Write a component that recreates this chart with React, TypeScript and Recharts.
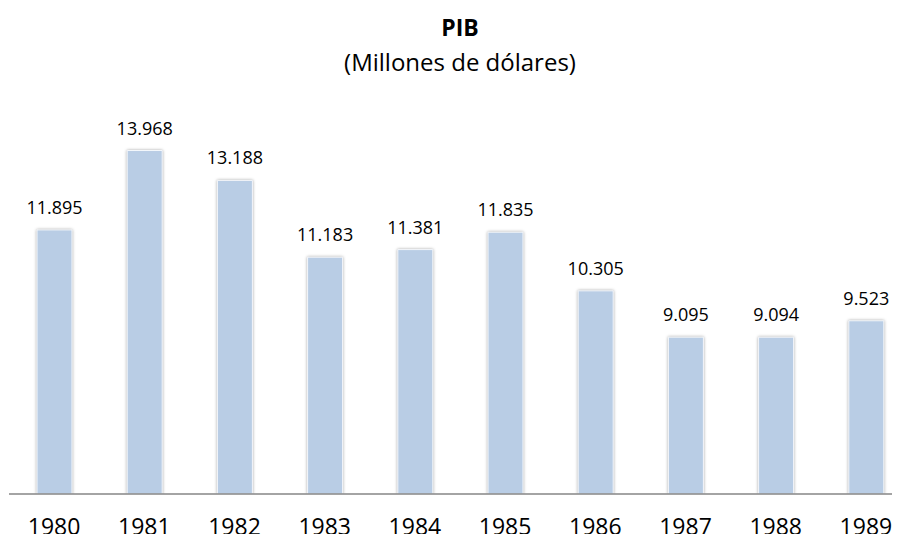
import React from "react";
import { BarChart, Bar, XAxis, YAxis, LabelList, Rectangle } from "recharts";

const years = ["1980", "1981", "1982", "1983", "1984", "1985", "1986", "1987", "1988", "1989"];
const pib = [11895, 13968, 13188, 11183, 11381, 11835, 10305, 9095, 9094, 9523];
const pibLabels = ["11.895", "13.968", "13.188", "11.183", "11.381", "11.835", "10.305", "9.095", "9.094", "9.523"];

const data = years.map((y, i) => ({ year: y, pib: pib[i], label: pibLabels[i] }));

const FONT = "'Open Sans', 'Noto Sans', sans-serif";

const BarShape = (props: any) => (
  <Rectangle
    {...props}
    fill="#B9CDE5"
    stroke="#F4F7FB"
    strokeWidth={1}
    style={{ filter: "drop-shadow(0px 0px 1.5px rgba(0,0,0,0.35))" }}
  />
);

export default function App() {
  return (
    <div style={{ margin: -8, width: 900, height: 542, overflow: "hidden", position: "relative", background: "#fff", fontFamily: FONT }}>
      <div style={{ position: "absolute", top: 13, left: 0, width: 920, textAlign: "center", fontSize: 23, fontWeight: 700, color: "#000", lineHeight: "28px" }}>
        PIB
      </div>
      <div style={{ position: "absolute", top: 47, left: 0, width: 920, textAlign: "center", fontSize: 24, color: "#000", lineHeight: "30px" }}>
        (Millones de dólares)
      </div>
      <BarChart width={911} height={542} data={data} margin={{ top: 111, right: 0, bottom: 18, left: 9 }} barSize={35}>
        <YAxis hide domain={[5000, 15000]} allowDataOverflow />
        <XAxis
          dataKey="year"
          axisLine={{ stroke: "#868686", strokeWidth: 1.5 }}
          tickLine={false}
          tickSize={0}
          tickMargin={25}
          tick={{ fill: "#000", fontSize: 23, fontFamily: FONT }}
          interval={0}
        />
        <Bar dataKey="pib" isAnimationActive={false} shape={BarShape}>
          <LabelList dataKey="label" position="top" offset={16} style={{ fill: "#000", fontSize: 18, fontFamily: FONT }} />
        </Bar>
      </BarChart>
    </div>
  );
}
